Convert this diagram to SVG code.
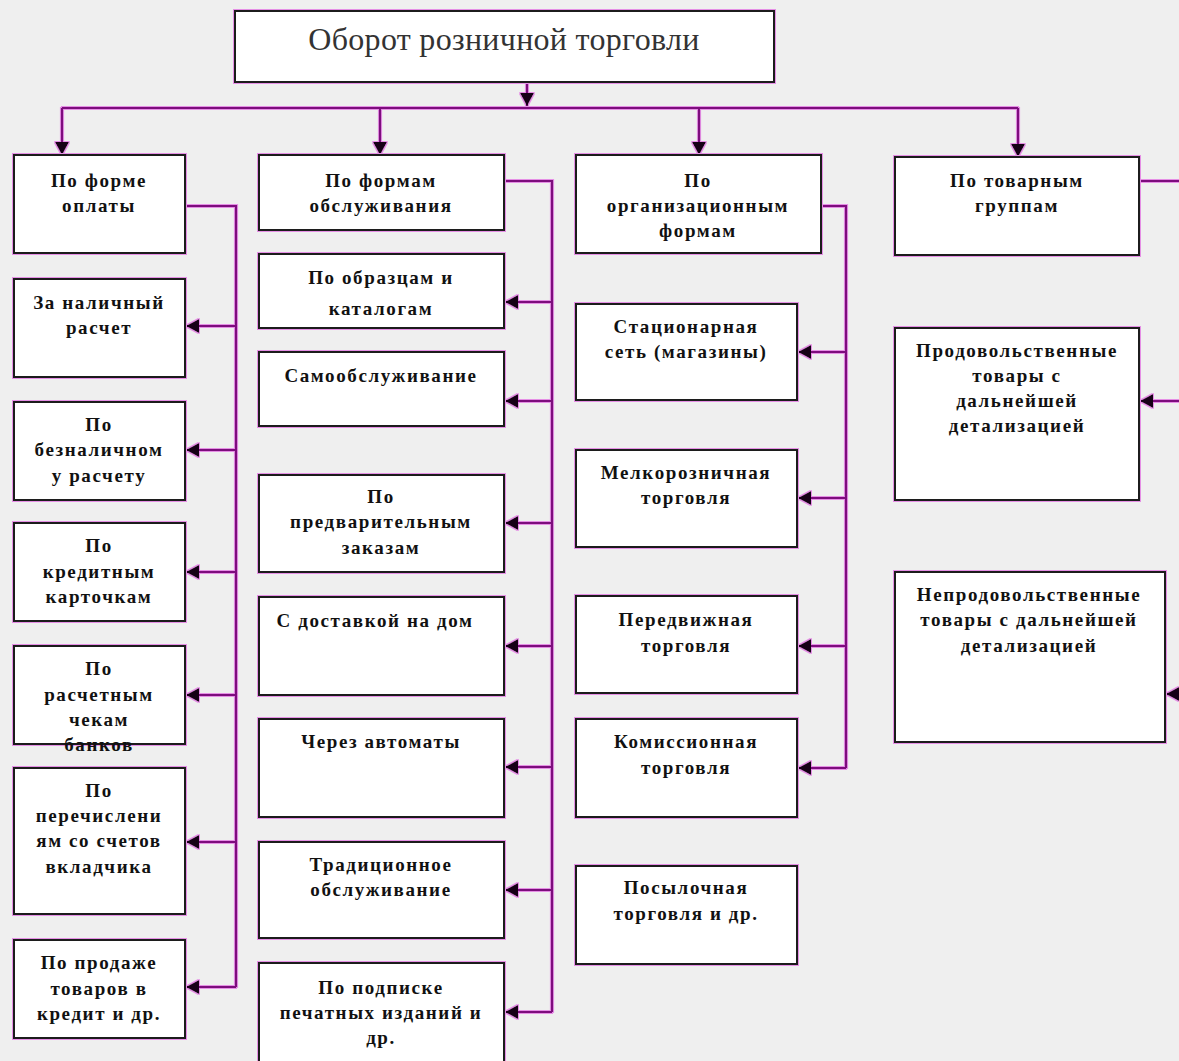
<svg xmlns="http://www.w3.org/2000/svg" width="1179" height="1061" viewBox="0 0 1179 1061">
<style>
.bg{fill:#efefef}
.box{fill:#ffffff;stroke:#1e1a1e;stroke-width:2;filter:url(#glow)}
.t{font-family:"Liberation Serif","Times New Roman",serif;font-weight:bold;font-size:19px;letter-spacing:1.6px;fill:#111;text-anchor:middle}
.title{font-family:"Liberation Serif","Times New Roman",serif;font-size:32px;letter-spacing:0.3px;fill:#333;text-anchor:middle}
.ln{fill:none;stroke:#7d0a7d;stroke-width:2.2}
.ar{fill:none;stroke:#7d0a7d;stroke-width:2.2;marker-end:url(#ah)}
</style>
<defs>
<filter id="glow" x="-10%" y="-10%" width="120%" height="120%">
<feMorphology in="SourceAlpha" operator="dilate" radius="1.3" result="d"/>
<feFlood flood-color="#e58fe5"/>
<feComposite in2="d" operator="in" result="g"/>
<feMerge><feMergeNode in="g"/><feMergeNode in="SourceGraphic"/></feMerge>
</filter>
<filter id="glowl" filterUnits="userSpaceOnUse" x="0" y="0" width="1179" height="1061">
<feMorphology in="SourceAlpha" operator="dilate" radius="1.2" result="d"/>
<feFlood flood-color="#e58fe5"/>
<feComposite in2="d" operator="in" result="g"/>
<feMerge><feMergeNode in="g"/><feMergeNode in="SourceGraphic"/></feMerge>
</filter>
<marker id="ah" markerUnits="userSpaceOnUse" markerWidth="13" markerHeight="14" refX="13" refY="7" orient="auto">
<path d="M0,0 L13,7 L0,14 z" fill="#140414"/>
</marker>
</defs>
<rect class="bg" x="0" y="0" width="1179" height="1061"/>

<g id="connectors" filter="url(#glowl)">
<path class="ar" d="M527,82 V106"/>
<path class="ln" d="M62,108 H1018"/>
<path class="ar" d="M62,108 V155"/>
<path class="ar" d="M380,108 V155"/>
<path class="ar" d="M699,108 V155"/>
<path class="ar" d="M1018,108 V157"/>
<path class="ln" d="M185,206 H236 V987"/>
<path class="ar" d="M236,326 H186"/>
<path class="ar" d="M236,450 H186"/>
<path class="ar" d="M236,572 H186"/>
<path class="ar" d="M236,695 H186"/>
<path class="ar" d="M236,842 H186"/>
<path class="ar" d="M236,987 H186"/>
<path class="ln" d="M504,181 H552 V1012"/>
<path class="ar" d="M552,302 H505"/>
<path class="ar" d="M552,401 H505"/>
<path class="ar" d="M552,523 H505"/>
<path class="ar" d="M552,646 H505"/>
<path class="ar" d="M552,767 H505"/>
<path class="ar" d="M552,890 H505"/>
<path class="ar" d="M552,1012 H505"/>
<path class="ln" d="M821,206 H846 V768"/>
<path class="ar" d="M846,352 H798"/>
<path class="ar" d="M846,498 H798"/>
<path class="ar" d="M846,646 H798"/>
<path class="ar" d="M846,768 H798"/>
<path class="ln" d="M1139,181 H1179"/>
<path class="ar" d="M1179,401 H1140"/>
<path class="ar" d="M1179,694 H1166"/>
</g>

<g id="root"><rect class="box" x="235" y="11" width="539" height="71"/><text class="title" x="504" y="50">Оборот розничной торговли</text></g>

<g id="c1h"><rect class="box" x="14" y="155" width="171" height="98"/><text class="t" x="99" y="187">По форме</text><text class="t" x="99" y="212">оплаты</text></g>
<g id="c1a"><rect class="box" x="14" y="279" width="171" height="98"/><text class="t" x="99" y="309">За наличный</text><text class="t" x="99" y="334">расчет</text></g>
<g id="c1b"><rect class="box" x="14" y="402" width="171" height="98"/><text class="t" x="99" y="431">По</text><text class="t" x="99" y="456">безналичном</text><text class="t" x="99" y="482">у расчету</text></g>
<g id="c1c"><rect class="box" x="14" y="523" width="171" height="98"/><text class="t" x="99" y="552">По</text><text class="t" x="99" y="578">кредитным</text><text class="t" x="99" y="603">карточкам</text></g>
<g id="c1d"><rect class="box" x="14" y="646" width="171" height="98"/><text class="t" x="99" y="675">По</text><text class="t" x="99" y="701">расчетным</text><text class="t" x="99" y="726">чекам</text><text class="t" x="99" y="751">банков</text></g>
<g id="c1e"><rect class="box" x="14" y="768" width="171" height="146"/><text class="t" x="99" y="797">По</text><text class="t" x="99" y="822">перечислени</text><text class="t" x="99" y="847">ям со счетов</text><text class="t" x="99" y="873">вкладчика</text></g>
<g id="c1f"><rect class="box" x="14" y="940" width="171" height="98"/><text class="t" x="99" y="969">По продаже</text><text class="t" x="99" y="995">товаров в</text><text class="t" x="99" y="1020">кредит и др.</text></g>

<g id="c2h"><rect class="box" x="259" y="155" width="245" height="75"/><text class="t" x="381" y="187">По формам</text><text class="t" x="381" y="212">обслуживания</text></g>
<g id="c2a"><rect class="box" x="259" y="254" width="245" height="74"/><text class="t" x="381" y="284">По образцам и</text><text class="t" x="381" y="315">каталогам</text></g>
<g id="c2b"><rect class="box" x="259" y="352" width="245" height="74"/><text class="t" x="381" y="382">Самообслуживание</text></g>
<g id="c2c"><rect class="box" x="259" y="475" width="245" height="97"/><text class="t" x="381" y="503">По</text><text class="t" x="381" y="528">предварительным</text><text class="t" x="381" y="554">заказам</text></g>
<g id="c2d"><rect class="box" x="259" y="597" width="245" height="98"/><text class="t" x="375" y="627">С доставкой на дом</text></g>
<g id="c2e"><rect class="box" x="259" y="719" width="245" height="98"/><text class="t" x="381" y="748">Через автоматы</text></g>
<g id="c2f"><rect class="box" x="259" y="842" width="245" height="96"/><text class="t" x="381" y="871">Традиционное</text><text class="t" x="381" y="896">обслуживание</text></g>
<g id="c2g"><rect class="box" x="259" y="963" width="245" height="100"/><text class="t" x="381" y="994">По подписке</text><text class="t" x="381" y="1019">печатных изданий и</text><text class="t" x="381" y="1044">др.</text></g>

<g id="c3h"><rect class="box" x="576" y="155" width="245" height="98"/><text class="t" x="698" y="187">По</text><text class="t" x="698" y="212">организационным</text><text class="t" x="698" y="237">формам</text></g>
<g id="c3a"><rect class="box" x="576" y="304" width="221" height="96"/><text class="t" x="686" y="333">Стационарная</text><text class="t" x="686" y="358">сеть (магазины)</text></g>
<g id="c3b"><rect class="box" x="576" y="450" width="221" height="97"/><text class="t" x="686" y="479">Мелкорозничная</text><text class="t" x="686" y="504">торговля</text></g>
<g id="c3c"><rect class="box" x="576" y="596" width="221" height="97"/><text class="t" x="686" y="626">Передвижная</text><text class="t" x="686" y="652">торговля</text></g>
<g id="c3d"><rect class="box" x="576" y="719" width="221" height="98"/><text class="t" x="686" y="748">Комиссионная</text><text class="t" x="686" y="774">торговля</text></g>
<g id="c3e"><rect class="box" x="576" y="866" width="221" height="98"/><text class="t" x="686" y="894">Посылочная</text><text class="t" x="686" y="920">торговля и др.</text></g>

<g id="c4h"><rect class="box" x="895" y="157" width="244" height="98"/><text class="t" x="1017" y="187">По товарным</text><text class="t" x="1017" y="212">группам</text></g>
<g id="c4a"><rect class="box" x="895" y="328" width="244" height="172"/><text class="t" x="1017" y="357">Продовольственные</text><text class="t" x="1017" y="382">товары с</text><text class="t" x="1017" y="407">дальнейшей</text><text class="t" x="1017" y="432">детализацией</text></g>
<g id="c4b"><rect class="box" x="895" y="572" width="270" height="170"/><text class="t" x="1029" y="601">Непродовольственные</text><text class="t" x="1029" y="626">товары с дальнейшей</text><text class="t" x="1029" y="652">детализацией</text></g>
</svg>
